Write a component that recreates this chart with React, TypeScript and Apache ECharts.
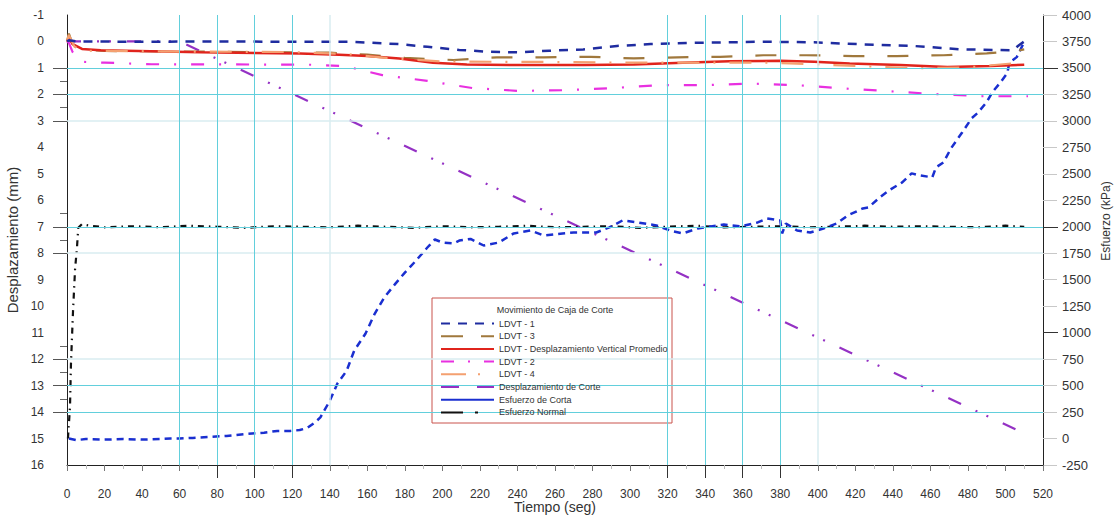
import React, { useEffect, useRef } from "react";
import * as echarts from "echarts";

// ---- Data (time in s, displacement in mm, stress in kPa) ----
const tLdvt1 = [0, 1, 5, 40, 80, 120, 151, 177, 192, 209, 225, 240, 257, 275, 293, 311, 334, 371, 398, 424, 451, 477, 504, 507, 510];
const vLdvt1 = [0, -0.05, 0, 0.01, 0, 0.01, 0.01, 0.1, 0.2, 0.32, 0.39, 0.41, 0.35, 0.3, 0.17, 0.1, 0.05, 0.01, 0.03, 0.11, 0.17, 0.3, 0.33, 0.15, 0.0];

const tLdvt3 = [0, 1, 3, 8, 20, 60, 100, 140, 160, 180, 206, 229, 254, 279, 302, 325, 348, 371, 394, 419, 442, 467, 490, 506, 510];
const vLdvt3 = [0, -0.3, 0.1, 0.3, 0.36, 0.38, 0.4, 0.42, 0.5, 0.62, 0.7, 0.6, 0.6, 0.58, 0.64, 0.6, 0.58, 0.52, 0.52, 0.55, 0.55, 0.52, 0.45, 0.35, 0.3];

const tProm = [0, 1, 3, 8, 18, 71, 124, 145, 160, 177, 195, 213, 240, 275, 302, 328, 353, 380, 398, 417, 444, 469, 492, 510];
const vProm = [0, -0.15, 0.1, 0.28, 0.33, 0.41, 0.45, 0.5, 0.55, 0.64, 0.8, 0.87, 0.89, 0.89, 0.87, 0.8, 0.75, 0.73, 0.77, 0.83, 0.89, 0.96, 0.93, 0.88];

const tLdvt2 = [0, 1, 3, 8, 20, 45, 100, 130, 148, 168, 192, 216, 241, 266, 291, 316, 340, 365, 389, 415, 438, 463, 488, 512];
const vLdvt2 = [0, 0.05, 0.4, 0.77, 0.8, 0.86, 0.87, 0.88, 0.93, 1.27, 1.49, 1.76, 1.87, 1.84, 1.76, 1.65, 1.65, 1.59, 1.65, 1.78, 1.88, 1.99, 2.07, 2.07];

const tLdvt4 = [0, 1, 4, 10, 60, 120, 150, 170, 200, 247, 300, 340, 371, 385, 420, 451, 480, 508];
const vLdvt4 = [0, -0.25, 0.2, 0.35, 0.38, 0.4, 0.48, 0.62, 0.76, 0.77, 0.8, 0.8, 0.8, 0.83, 0.92, 1.01, 0.98, 0.8];

const tCorte = [0, 60, 510];
const vCorte = [0, 0, 14.8];

const tShear = [1, 5, 10, 20, 30, 40, 50, 55, 60, 67, 75, 85, 96, 105, 112, 119, 124, 128, 132, 135, 140, 144, 149, 153, 159, 164, 169, 175, 180, 186, 192, 196, 200, 206, 209, 215, 222, 230, 238, 247, 254, 264, 270, 282, 289, 296, 304, 314, 322, 328, 336, 350, 359, 368, 373, 380, 381, 383, 389, 396, 403, 410, 416, 424, 427, 433, 438, 445, 450, 454, 461, 463, 467, 471, 477, 482, 485, 490, 493, 497, 501, 502, 504, 506, 510];
const vShear = [0, -15, -5, -10, -5, -10, -5, 0, 0, 6, 15, 25, 44, 55, 72, 72, 80, 100, 150, 200, 356, 517, 640, 829, 990, 1180, 1331, 1463, 1567, 1681, 1804, 1880, 1851, 1842, 1870, 1885, 1823, 1851, 1937, 1965, 1918, 1937, 1946, 1946, 1994, 2060, 2041, 2013, 1960, 1937, 1984, 2022, 2003, 2041, 2079, 2060, 1937, 2031, 1965, 1946, 1984, 2031, 2107, 2173, 2183, 2277, 2344, 2419, 2504, 2486, 2467, 2561, 2608, 2741, 2893, 3025, 3072, 3177, 3271, 3356, 3451, 3546, 3574, 3602, 3745];

const tNormal = [0.5, 1.6, 2.1, 3.2, 4.3, 5.3, 6, 8, 12, 20, 35, 50, 65, 80, 95, 110, 125, 140, 155, 170, 185, 200, 215, 230, 245, 260, 275, 290, 305, 320, 335, 350, 365, 380, 395, 410, 425, 440, 455, 470, 485, 500, 510];
const vNormal = [0, 300, 700, 1200, 1600, 1800, 1990, 2025, 2010, 1995, 2005, 1995, 2010, 2000, 1990, 2005, 2000, 1995, 2010, 2000, 1990, 2005, 1995, 2000, 2010, 1995, 2000, 2005, 1990, 2000, 2010, 1995, 2000, 2005, 1995, 2000, 2010, 2000, 2005, 2000, 1995, 2010, 2000];

const xTickBig = [80, 100, 120, 320, 340, 360, 380];
const yTickLong = [1, 2, 3, 7, 8, 12, 13, 14];
const yTickShort = [1.5, 2.5, 6.5, 7.5, 11.5, 12.5, 13.5];
const rTickDark = [3500, 2000, 1000];
const gridStrongY = [1, 2, 7, 13, 14];
const gridFaintY = [3, 8, 12];
const gridStrongX = [60, 80, 100, 120, 320, 340, 360, 380];
const gridFaintX = [140, 400];

const FONT = "'Liberation Sans', Arial, sans-serif";

function pairs(t: number[], v: number[]) {
  return t.map((x, i) => [x, v[i]]);
}

function line(name: string, t: number[], v: number[], yIdx: number, color: string, width: number, type: any, z: number) {
  return {
    type: "line",
    name,
    data: pairs(t, v),
    xAxisIndex: 0,
    yAxisIndex: yIdx,
    symbol: "none",
    showSymbol: false,
    smooth: false,
    z,
    color,
    lineStyle: { color, width, type },
  };
}

export default function App() {
  const ref = useRef<HTMLDivElement>(null);
  useEffect(() => {
    const chart = echarts.init(ref.current!, null, { renderer: "svg" });
    const cyan = "#62cfdc";
    const faint = "#d9edf1";
    const plain = (v: number) => String(v);
    const option: any = {
      animation: false,
      backgroundColor: "#ffffff",
      textStyle: { fontFamily: FONT },
      grid: { left: 67, right: 74, top: 15, bottom: 51, containLabel: false, outerBoundsMode: "none" },
      xAxis: [
        {
          type: "value", min: 0, max: 520, interval: 20, position: "bottom",
          axisLine: { show: true, onZero: false, lineStyle: { color: "#222", width: 1 } },
          axisTick: { show: true, length: 6, lineStyle: { color: "#777" } },
          minorTick: { show: true, splitNumber: 2, length: 4, lineStyle: { color: "#bbb" } },
          splitLine: { show: false },
          axisLabel: { margin: 23, fontSize: 12, color: "#333", fontFamily: FONT, formatter: plain },
        },
        {
          type: "value", min: 0, max: 520, position: "bottom",
          axisLine: { show: false, onZero: false }, axisLabel: { show: false }, splitLine: { show: false },
          axisTick: { show: true, length: 13, customValues: xTickBig, lineStyle: { color: "#333" } },
        },
      ],
      yAxis: [
        {
          type: "value", inverse: true, min: -1, max: 16, interval: 1, position: "left",
          axisLine: { show: true, onZero: false, lineStyle: { color: "#222", width: 1 } },
          axisTick: { show: false }, splitLine: { show: false },
          axisLabel: { margin: 23, fontSize: 12, color: "#333", fontFamily: FONT, formatter: plain },
          name: "Desplazamiento (mm)", nameLocation: "middle", nameGap: 38,
          nameTextStyle: { fontSize: 15, color: "#333", fontFamily: FONT },
        },
        {
          type: "value", min: -250, max: 4000, interval: 250, position: "right",
          axisLine: { show: true, onZero: false, lineStyle: { color: "#222", width: 1 } },
          axisTick: { show: true, length: 14, lineStyle: { color: "#c8c8c8" } }, splitLine: { show: false },
          axisLabel: { margin: 19, fontSize: 13, color: "#333", fontFamily: FONT, formatter: plain },
        },
        {
          type: "value", inverse: true, min: -1, max: 16, position: "left",
          axisLine: { show: false, onZero: false }, axisLabel: { show: false }, splitLine: { show: false },
          axisTick: { show: true, length: 14, customValues: yTickLong, lineStyle: { color: "#555" } },
        },
        {
          type: "value", inverse: true, min: -1, max: 16, position: "left",
          axisLine: { show: false, onZero: false }, axisLabel: { show: false }, splitLine: { show: false },
          axisTick: { show: true, length: 7, customValues: yTickShort, lineStyle: { color: "#666" } },
        },
        {
          type: "value", min: -250, max: 4000, position: "right",
          axisLine: { show: false, onZero: false }, axisLabel: { show: false }, splitLine: { show: false },
          axisTick: { show: true, length: 15, customValues: rTickDark, lineStyle: { color: "#333" } },
        },
      ],
      legend: {
        orient: "vertical", left: 440, top: 318, padding: 0,
        itemWidth: 53, itemHeight: 10, itemGap: 1.7, selectedMode: false, z: 6,
        itemStyle: { opacity: 0 },
        textStyle: { fontSize: 9, color: "#333", lineHeight: 11, fontFamily: FONT },
        data: [
          { name: "LDVT - 1" },
          { name: "LDVT - 3", lineStyle: { type: [22, 18] } },
          { name: "LDVT - Desplazamiento Vertical Promedio" },
          { name: "LDVT - 2", lineStyle: { type: [13, 14, 2, 14] } },
          { name: "LDVT - 4", lineStyle: { type: [25, 12, 2, 14] } },
          { name: "Desplazamiento de Corte", lineStyle: { type: [18, 18] } },
          { name: "Esfuerzo de Corta", lineStyle: { type: "solid" } },
          { name: "Esfuerzo Normal", lineStyle: { type: [22, 12, 3, 16] } },
        ],
      },
      graphic: [
        {
          type: "rect", z: 5, silent: true,
          shape: { x: 432, y: 298, width: 240, height: 125 },
          style: { fill: "#ffffff", stroke: "#c9524d", lineWidth: 1 },
        },
        {
          type: "text", z: 6, silent: true, x: 555, y: 310,
          style: { text: "Movimiento de Caja de Corte", fontSize: 9, fill: "#333", align: "center", verticalAlign: "middle", fontFamily: FONT },
        },
        {
          type: "text", z: 6, silent: true, x: 1106, y: 221, rotation: Math.PI / 2,
          style: { text: "Esfuerzo (kPa)", fontSize: 12, fill: "#333", align: "center", verticalAlign: "middle", fontFamily: FONT },
        },
        {
          type: "text", z: 6, silent: true, x: 555, y: 507,
          style: { text: "Tiempo (seg)", fontSize: 14, lineHeight: 14, fill: "#333", align: "center", verticalAlign: "middle", fontFamily: FONT },
        },
      ],
      series: [
        {
          type: "line", name: "grid", data: [], xAxisIndex: 0, yAxisIndex: 0, silent: true, z: 1,
          markLine: {
            silent: true, symbol: ["none", "none"], label: { show: false }, animation: false,
            data: [
              ...gridFaintY.map((v) => ({ yAxis: v, lineStyle: { color: faint, width: 1.5, type: "solid" } })),
              ...gridFaintX.map((v) => ({ xAxis: v, lineStyle: { color: faint, width: 1.5, type: "solid" } })),
              ...gridStrongY.map((v) => ({ yAxis: v, lineStyle: { color: cyan, width: 1, type: "solid" } })),
              ...gridStrongX.map((v) => ({ xAxis: v, lineStyle: { color: cyan, width: 1, type: "solid" } })),
            ],
          },
        },
        line("Desplazamiento de Corte", tCorte, vCorte, 0, "#9431c4", 2.2, [14, 16, 2, 10, 2, 16], 3),
        line("Esfuerzo Normal", tNormal, vNormal, 1, "#111111", 2.2, [6, 5, 1.5, 5], 3),
        line("Esfuerzo de Corta", tShear, vShear, 1, "#1a2fd0", 2.5, [7, 5], 3),
        line("LDVT - 2", tLdvt2, vLdvt2, 0, "#e830e0", 2.2, [13, 15, 2, 15], 3),
        line("LDVT - 3", tLdvt3, vLdvt3, 0, "#a0783c", 2.2, [21, 23], 3),
        line("LDVT - Desplazamiento Vertical Promedio", tProm, vProm, 0, "#e0241c", 2.5, "solid", 3),
        line("LDVT - 4", tLdvt4, vLdvt4, 0, "#f4a070", 2.2, [22, 14, 2, 14], 3),
        line("LDVT - 1", tLdvt1, vLdvt1, 0, "#1f2ca0", 2.5, [9, 8], 4),
      ],
    };
    chart.setOption(option);
    return () => chart.dispose();
  }, []);
  return <div ref={ref} style={{ position: "fixed", left: 0, top: 0, width: 1117, height: 516 }} />;
}
